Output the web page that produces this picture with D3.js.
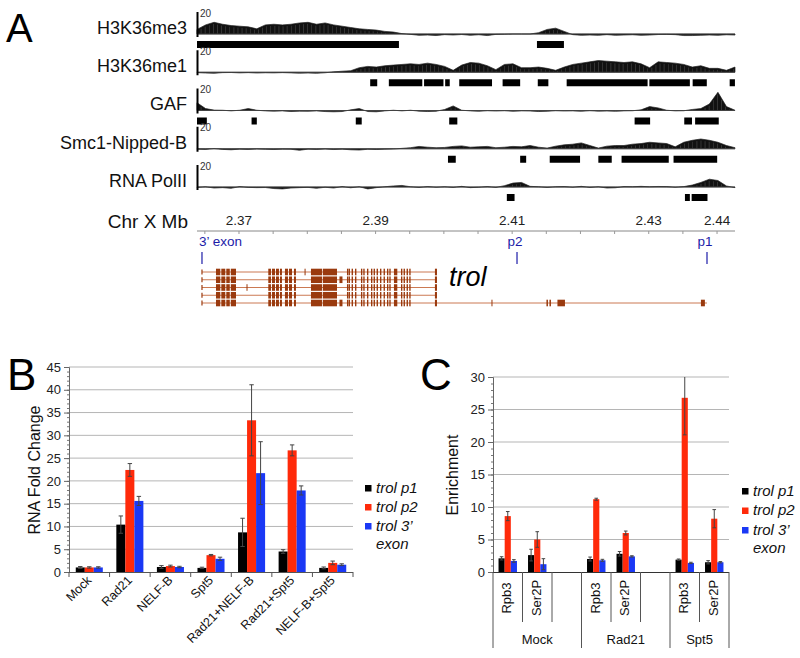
<!DOCTYPE html>
<html><head><meta charset="utf-8">
<script src="https://cdn.jsdelivr.net/npm/d3@7"></script>
<style>body{margin:0;background:#fff} svg{font-family:"Liberation Sans",Arial,sans-serif}</style>
</head><body><svg id="c" width="800" height="658"></svg>
<script>
// ---------------- DATA ----------------
// Panel A: genome browser tracks (chrX, Mb)
const trackNames = ["H3K36me3","H3K36me1","GAF","Smc1-Nipped-B","RNA PolII"];
const trackRange = [2.36385, 2.44263];
const trackMax = 20;
const sigH3K36me3 = [3.5,7,9,7.5,6.5,6,5.5,4,7,7.5,7,7.5,8.5,9,7.5,8.5,7,6,5,4,3.5,3,2,1.5,0.3,-0.3,-1,-0.8,-1.2,-0.5,-0.8,-0.4,-1,-0.6,-1.2,-0.3,-0.2,0,0,0,1,3.5,4.5,2,-0.5,-1,-0.8,-1,-0.5,-1,-0.8,-0.6,-1,-0.8,-0.4,-0.3,-0.5,-1.2,-1.2,-1,-0.8,-1,-0.6,-0.8];
const sigH3K36me1 = [-0.3,-0.6,-0.8,-0.3,-0.2,-0.5,-0.3,-0.6,-0.4,-0.5,-0.3,-0.5,-0.7,-0.6,-0.8,-0.4,0.3,0.8,1.2,3.5,4.5,4,5,5.5,6,6.5,6,7,6,4.5,1.5,5.5,7.5,7,5,2,6,6.5,3.5,3.5,4,3,1.5,4,6,7,8,9,8.5,8,7.5,8,6.5,3.5,8,7.5,7,6,4,5,3,3,1.5,4];
const sigGAF = [6,1.5,0.3,0.2,-0.3,0.2,1.5,0.2,-0.3,-0.5,-0.3,-0.8,-0.5,-0.6,-0.3,-0.8,-1,-0.8,0.5,1.5,-0.8,-1,-0.3,0.2,-0.3,0.2,-0.5,-0.8,-0.6,0.8,3.5,0.2,-0.3,-0.6,-0.2,-0.4,-0.2,-0.6,-0.3,-0.4,-0.8,-0.6,-0.2,-0.4,-0.3,-0.6,-0.2,-0.5,-0.4,-0.6,-0.3,-0.2,0.5,3,2,0.2,-0.3,-0.2,0.8,1.5,5,14,3,0.2];
const sigSmc1 = [-0.3,-0.5,0.2,-0.5,-0.8,-0.3,-0.5,-0.2,-0.4,-0.6,-0.3,-0.4,-1.2,-0.3,-0.5,-0.2,-0.6,-0.3,-0.8,-1,-0.4,-0.6,-0.3,-0.2,0.3,0.8,1.8,1.2,0.8,1,1.8,2.2,1.2,1.5,1.8,0.8,1.2,1.8,1.5,2.5,1.2,0.5,2,3,3.5,4.5,2.5,0.5,2,2.5,2.5,3.5,4,5,4.5,4,1.5,5,6.5,7.5,6.5,5,2.5,0.8];
const sigPolII = [-0.3,0.2,-0.8,-0.5,-1,0.3,-0.3,-0.5,-0.4,-1.2,-1.5,-0.8,-0.5,-0.3,-1,-0.2,-0.8,0.3,-0.6,0.2,-1.5,-0.5,0.2,0.8,1.2,0.2,-0.3,0.3,-0.2,0.2,-0.3,0.5,-0.5,-0.2,0.3,-0.3,1,3,3.5,0.5,0.2,-0.3,0.2,0.3,-0.2,0.5,-0.3,0.2,-0.8,-0.6,0.3,0.2,0.5,0.2,0.4,0.3,-0.2,0.3,1.5,3.5,6,5,0.8,-0.5];
const blkH3K36me3 = [[2.36385,2.39342],[2.41363,2.41758]];
const blkH3K36me1 = [[2.38921,2.39024],[2.39194,2.39684],[2.39710,2.39994],[2.40019,2.40086],[2.40225,2.40705],[2.40860,2.41117],[2.41375,2.41530],[2.41798,2.42983],[2.43009,2.43602],[2.43643,2.43850],[2.44185,2.44262]];
const blkGAF = [[2.36385,2.36529],[2.37184,2.37261],[2.38710,2.38797],[2.40078,2.40197],[2.42793,2.43020],[2.43520,2.43633],[2.43679,2.44025]];
const blkSmc1 = [[2.40060,2.40174],[2.41117,2.41205],[2.41550,2.41994],[2.42262,2.42458],[2.42602,2.43293],[2.43363,2.44002]];
const blkPolII = [[2.40922,2.41035],[2.43530,2.43602],[2.43628,2.43860]];
const mbTicks = [2.37, 2.39, 2.41, 2.43, 2.44];
const mbMinorStep = 0.005;
const markerNames = ["3\u2019 exon","p2","p1"];
const markerPos = [2.36458, 2.41071, 2.43853];
const geneName = "trol";
const geneStart = 2.36458;
const rowEnds = [2.39899,2.39899,2.39899,2.39899,2.43852];
const exonsAll = [[2.36663,2.36726],[2.36741,2.36799],[2.36814,2.36865],[2.36880,2.36956],
 [2.37429,2.37468],[2.37483,2.37527],[2.37542,2.37585],[2.37600,2.37629],[2.37673,2.37717],[2.37732,2.37776],[2.37805,2.37834],
 [2.38054,2.38215],[2.38227,2.38435],
 [2.38581,2.38601],[2.38605,2.38625],[2.38649,2.38669],[2.38699,2.38719],[2.38786,2.38806],[2.38820,2.38840],[2.38874,2.38894],[2.38933,2.38953],[2.38971,2.38991],[2.39015,2.39035],[2.39065,2.39085],[2.39117,2.39137],[2.39167,2.39187],[2.39201,2.39221],[2.39269,2.39318],[2.39372,2.39392],[2.39410,2.39430],[2.39454,2.39474],[2.39493,2.39513],
 [2.39869,2.39899]];
const exonsRow = [
 [[2.37960,2.37975]],
 [[2.38471,2.38515]],
 [[2.37110,2.37124]],
 [],
 [[2.38471,2.38515],[2.40697,2.40711],[2.41502,2.41524],[2.41546,2.41568],[2.41663,2.41773],[2.43764,2.43822]]
];

// Panel B: RNA fold change
const seriesNames = ["trol p1","trol p2","trol 3\u2019 exon"];
const catsB = ["Mock","Rad21","NELF-B","Spt5","Rad21+NELF-B","Rad21+Spt5","NELF-B+Spt5"];
const bP1 = [1.0,10.4,1.1,0.9,8.7,4.5,0.9];
const bP2 = [1.0,22.4,1.3,3.7,33.3,26.7,2.0];
const bEx = [1.0,15.6,1.1,2.9,21.7,17.9,1.6];
const bP1Err = [0.2,1.9,0.3,0.15,3.1,0.4,0.2];
const bP2Err = [0.15,1.4,0.2,0.15,7.8,1.2,0.4];
const bExErr = [0.15,1.0,0.15,0.35,6.9,1.0,0.2];
const bTicks = [0,5,10,15,20,25,30,35,40,45];

// Panel C: enrichment
const groupsC = ["Mock","Rad21","Spt5"];
const subsC = ["Rpb3","Ser2P"];
const cP1 = [2.1,2.6,2.0,2.8,1.9,1.5];
const cP2 = [8.6,5.0,11.2,6.0,26.8,8.2];
const cEx = [1.7,1.2,1.8,2.4,1.4,1.5];
const cP1Err = [0.25,0.9,0.3,0.35,0.1,0.25];
const cP2Err = [0.7,1.2,0.15,0.3,5.7,1.4];
const cExErr = [0.2,0.85,0.15,0.1,0.1,0.1];
const cTicks = [0,5,10,15,20,25,30];

const colors = ["#000000","#ff2a0a","#1a38f5"];

// ---------------- DRAW ----------------
const svg = d3.select("#c");
const F = '"Liberation Sans",Arial,sans-serif';

// Panel letters
svg.append("text").attr("x",6).attr("y",42).attr("font-size",40).text("A");
svg.append("text").attr("x",7).attr("y",390).attr("font-size",44).text("B");
svg.append("text").attr("x",420).attr("y",390).attr("font-size",44).text("C");

// ---- Panel A ----
const gx = d3.scaleLinear().domain(trackRange).range([197,735]);
const trackY = d3.scaleLinear().domain([0,4]).range([34,187]);
const sigs = [sigH3K36me3,sigH3K36me1,sigGAF,sigSmc1,sigPolII];
const blks = [blkH3K36me3,blkH3K36me1,blkGAF,blkSmc1,blkPolII];
trackNames.forEach((name,t)=>{
  const base = trackY(t);
  const ys = d3.scaleLinear().domain([0,trackMax]).range([base, base-26]);
  const g = svg.append("g");
  g.append("text").attr("x",187).attr("y",base-5).attr("text-anchor","end")
    .attr("dominant-baseline","middle").attr("font-size",18).attr("fill","#111").text(name);
  const sig = sigs[t];
  const step = (trackRange[1]-trackRange[0])/(sig.length-1);
  const area = d3.area().x((d,i)=>gx(trackRange[0]+i*step)).y0(ys(0)).y1(d=>ys(d));
  g.append("path").datum(sig).attr("d",area).attr("fill","#111").attr("stroke","#222").attr("stroke-width",0.7);
  // fine histogram texture
  const tex = d3.range(trackRange[0], trackRange[1], 0.0006);
  g.selectAll("line.tx").data(tex).join("line")
    .attr("x1",d=>gx(d)).attr("x2",d=>gx(d)).attr("y1",ys(0)-0.5).attr("y2",d=>{
      const i = Math.min(sig.length-2, Math.floor((d-trackRange[0])/step));
      const f = (d-trackRange[0])/step - i;
      const v = sig[i]*(1-f)+sig[i+1]*f;
      return v>1.5 ? ys(v)+1.5 : ys(0)-0.5;
    }).attr("stroke","#999").attr("stroke-width",0.4).attr("opacity",0.7);
  g.append("line").attr("x1",gx(trackRange[0])).attr("x2",gx(trackRange[1])).attr("y1",ys(0)).attr("y2",ys(0))
    .attr("stroke","#444").attr("stroke-width",0.8);
  g.append("line").attr("x1",197.5).attr("x2",197.5).attr("y1",base-22).attr("y2",ys(0)+3)
    .attr("stroke","#000").attr("stroke-width",2);
  g.append("text").attr("x",200).attr("y",base-20).attr("dominant-baseline","middle")
    .attr("font-size",10).attr("fill","#333").text(trackMax);
  g.selectAll("rect").data(blks[t]).join("rect")
    .attr("x",d=>gx(d[0])).attr("width",d=>gx(d[1])-gx(d[0])).attr("y",base+7).attr("height",7).attr("fill","#000");
});

// genomic axis
svg.append("text").attr("x",188).attr("y",223).attr("text-anchor","end").attr("dominant-baseline","middle")
  .attr("font-size",19).attr("fill","#111").text("Chr X Mb");
svg.append("line").attr("x1",197).attr("x2",735).attr("y1",231).attr("y2",231).attr("stroke","#888").attr("stroke-width",1);
const minor = d3.range(2.365, 2.4426, mbMinorStep);
svg.selectAll("line.mt").data(minor).join("line").attr("x1",d=>gx(d)).attr("x2",d=>gx(d))
  .attr("y1",231).attr("y2",234).attr("stroke","#999");
svg.selectAll("text.mb").data(mbTicks).join("text").attr("x",d=>gx(d)).attr("y",221)
  .attr("text-anchor","middle").attr("dominant-baseline","middle").attr("font-size",13.5).attr("fill","#222")
  .text(d=>d3.format(".2f")(d));
markerNames.forEach((m,i)=>{
  const x = gx(markerPos[i]);
  svg.append("text").attr("x", i===0 ? x-3 : x-2).attr("y",242).attr("text-anchor", i===0?"start":"middle")
    .attr("dominant-baseline","middle").attr("font-size",13.5).attr("fill","#1c1ca8").text(m);
  svg.append("line").attr("x1",x).attr("x2",x).attr("y1",252).attr("y2",264).attr("stroke","#1c1ca8").attr("stroke-width",1.2);
});
// gene model
const rowY = d3.scaleLinear().domain([0,4]).range([272,303]);
const brown = "#9a3a0e";
rowEnds.forEach((end,r)=>{
  const y = rowY(r);
  svg.append("line").attr("x1",gx(geneStart)).attr("x2",gx(end)).attr("y1",y).attr("y2",y)
    .attr("stroke","#c56a3e").attr("stroke-width",0.9);
  svg.append("line").attr("x1",gx(geneStart)).attr("x2",gx(geneStart)).attr("y1",y-2.5).attr("y2",y+2.5)
    .attr("stroke",brown).attr("stroke-width",1.2);
  const ex = exonsAll.concat(exonsRow[r]);
  svg.selectAll("rect.ex"+r).data(ex).join("rect")
    .attr("x",d=>gx(d[0])).attr("width",d=>Math.max(1,gx(d[1])-gx(d[0]))).attr("y",y-3.3).attr("height",6.6)
    .attr("fill",brown);
});
svg.append("text").attr("x",449).attr("y",279).attr("dominant-baseline","middle").attr("font-size",27)
  .attr("font-style","italic").attr("fill","#000").text(geneName);

// ---- helper for bar panels ----
function legend(x, y0, dy) {
  seriesNames.forEach((s,i)=>{
    svg.append("rect").attr("x",x).attr("y",y0+i*dy-4).attr("width",6.5).attr("height",6.5).attr("fill",colors[i]);
  });
  const lab = ["trol p1","trol p2","trol 3\u2019"];
  lab.forEach((s,i)=>{
    svg.append("text").attr("x",x+11).attr("y",y0+i*dy).attr("dominant-baseline","middle")
      .attr("font-size",15).attr("font-style","italic").attr("fill","#111").text(s);
  });
  svg.append("text").attr("x",x+11).attr("y",y0+3*dy-1).attr("dominant-baseline","middle")
    .attr("font-size",15).attr("font-style","italic").attr("fill","#111").text("exon");
}
function yAxis(y, x0, x1, ticks, maxV) {
  svg.selectAll(null).data(ticks.slice(1)).join("line").attr("x1",x0).attr("x2",x1)
    .attr("y1",d=>y(d)).attr("y2",d=>y(d)).attr("stroke","#b5b5b5").attr("stroke-width",1);
  const ga = svg.append("g").attr("transform",`translate(${x0},0)`)
    .call(d3.axisLeft(y).tickValues(d3.range(0,maxV+0.01,1)).tickSize(2).tickFormat(""));
  ga.selectAll("line").attr("stroke","#777");
  ga.select(".domain").remove();
  const gb = svg.append("g").attr("transform",`translate(${x0},0)`)
    .call(d3.axisLeft(y).tickValues(ticks).tickSize(5).tickPadding(3));
  gb.selectAll("text").attr("font-size",13).attr("font-family",F).attr("fill","#222");
  gb.selectAll("line").attr("stroke","#666");
  gb.select(".domain").attr("stroke","#666");
}
function errBars(xf, y, vals, errs, cap, maxV) {
  vals.forEach((v,i)=>{
    const x = xf(i);
    const top = Math.min(maxV, v+errs[i]);
    svg.append("line").attr("x1",x).attr("x2",x).attr("y1",y(v-errs[i])).attr("y2",y(top)).attr("stroke","#444").attr("stroke-width",1);
    svg.append("line").attr("x1",x-cap).attr("x2",x+cap).attr("y1",y(v-errs[i])).attr("y2",y(v-errs[i])).attr("stroke","#444");
    if (v+errs[i] <= maxV) svg.append("line").attr("x1",x-cap).attr("x2",x+cap).attr("y1",y(top)).attr("y2",y(top)).attr("stroke","#444");
  });
}

// ---- Panel B ----
const yB = d3.scaleLinear().domain([0,45]).range([572,367]);
const xB = d3.scaleBand().domain(catsB).range([69,353]).padding(0);
const xBs = d3.scaleBand().domain([0,1,2]).range([0,xB.bandwidth()]).paddingInner(0).paddingOuter(0.75);
yAxis(yB, 69, 353, bTicks, 45);
const bSeries = [bP1,bP2,bEx], bErrs = [bP1Err,bP2Err,bExErr];
bSeries.forEach((vals,s)=>{
  svg.selectAll(null).data(vals).join("rect")
    .attr("x",(d,i)=>xB(catsB[i])+xBs(s)).attr("width",xBs.bandwidth())
    .attr("y",d=>yB(d)).attr("height",d=>yB(0)-yB(d)).attr("fill",colors[s]);
});
bSeries.forEach((vals,s)=>errBars(i=>xB(catsB[i])+xBs(s)+xBs.bandwidth()/2, yB, vals, bErrs[s], 2.2, 45));
svg.append("line").attr("x1",69).attr("x2",353).attr("y1",572.5).attr("y2",572.5).attr("stroke","#555");
svg.selectAll(null).data(d3.range(catsB.length+1)).join("line")
  .attr("x1",i=>69+i*xB.step()).attr("x2",i=>69+i*xB.step()).attr("y1",572).attr("y2",577).attr("stroke","#555");
catsB.forEach(c=>{
  const x = xB(c)+xB.bandwidth()/2+3;
  svg.append("text").attr("transform",`translate(${x},581) rotate(-45)`).attr("text-anchor","end")
    .attr("font-size",12.5).attr("fill","#111").text(c);
});
svg.append("text").attr("transform","translate(40,470) rotate(-90)").attr("text-anchor","middle")
  .attr("font-size",16).attr("fill","#111").text("RNA Fold Change");
legend(365, 489, 19);

// ---- Panel C ----
const slotKeys = [];
groupsC.forEach((g,gi)=>{ subsC.forEach(s=>slotKeys.push(g+"|"+s)); if (gi<groupsC.length-1) slotKeys.push(g+"|gap"); });
const xC = d3.scaleBand().domain(slotKeys).range([493,729]).padding(0);
const xCs = d3.scaleBand().domain([0,1,2]).range([0,xC.bandwidth()]).paddingInner(0).paddingOuter(0.9);
const yC = d3.scaleLinear().domain([0,30]).range([572,377]);
yAxis(yC, 493, 729, cTicks, 30);
const dataKeys = [];
groupsC.forEach(g=>subsC.forEach(s=>dataKeys.push(g+"|"+s)));
const cSeries = [cP1,cP2,cEx], cErrs = [cP1Err,cP2Err,cExErr];
cSeries.forEach((vals,s)=>{
  svg.selectAll(null).data(vals).join("rect")
    .attr("x",(d,i)=>xC(dataKeys[i])+xCs(s)).attr("width",xCs.bandwidth())
    .attr("y",d=>yC(d)).attr("height",d=>yC(0)-yC(d)).attr("fill",colors[s]);
});
cSeries.forEach((vals,s)=>errBars(i=>xC(dataKeys[i])+xCs(s)+xCs.bandwidth()/2, yC, vals, cErrs[s], 1.8, 30));
svg.append("line").attr("x1",493).attr("x2",729).attr("y1",572.5).attr("y2",572.5).attr("stroke","#333");
// separators
slotKeys.concat(["end"]).forEach((k,i)=>{
  const x = 493 + i*xC.step();
  const isGroup = i===0 || i===slotKeys.length || (k.split("|")[1]===subsC[0]);
  svg.append("line").attr("x1",x).attr("x2",x).attr("y1",572).attr("y2",isGroup?648:622).attr("stroke","#555");
});
dataKeys.forEach(k=>{
  const x = xC(k)+xC.bandwidth()/2;
  svg.append("text").attr("transform",`translate(${x},598) rotate(-90)`).attr("text-anchor","middle")
    .attr("dominant-baseline","middle").attr("font-size",13).attr("fill","#111").text(k.split("|")[1]);
});
groupsC.forEach((g,gi)=>{
  const keys = slotKeys.filter(k=>k.startsWith(g+"|"));
  const x0 = xC(keys[0]), x1 = xC(keys[keys.length-1])+xC.bandwidth();
  svg.append("text").attr("x",(x0+x1)/2).attr("y",641).attr("text-anchor","middle").attr("dominant-baseline","middle")
    .attr("font-size",13).attr("fill","#111").text(g);
});
svg.append("text").attr("transform","translate(458,475) rotate(-90)").attr("text-anchor","middle")
  .attr("font-size",16).attr("fill","#111").text("Enrichment");
legend(742, 492, 19.5);
</script></body></html>
